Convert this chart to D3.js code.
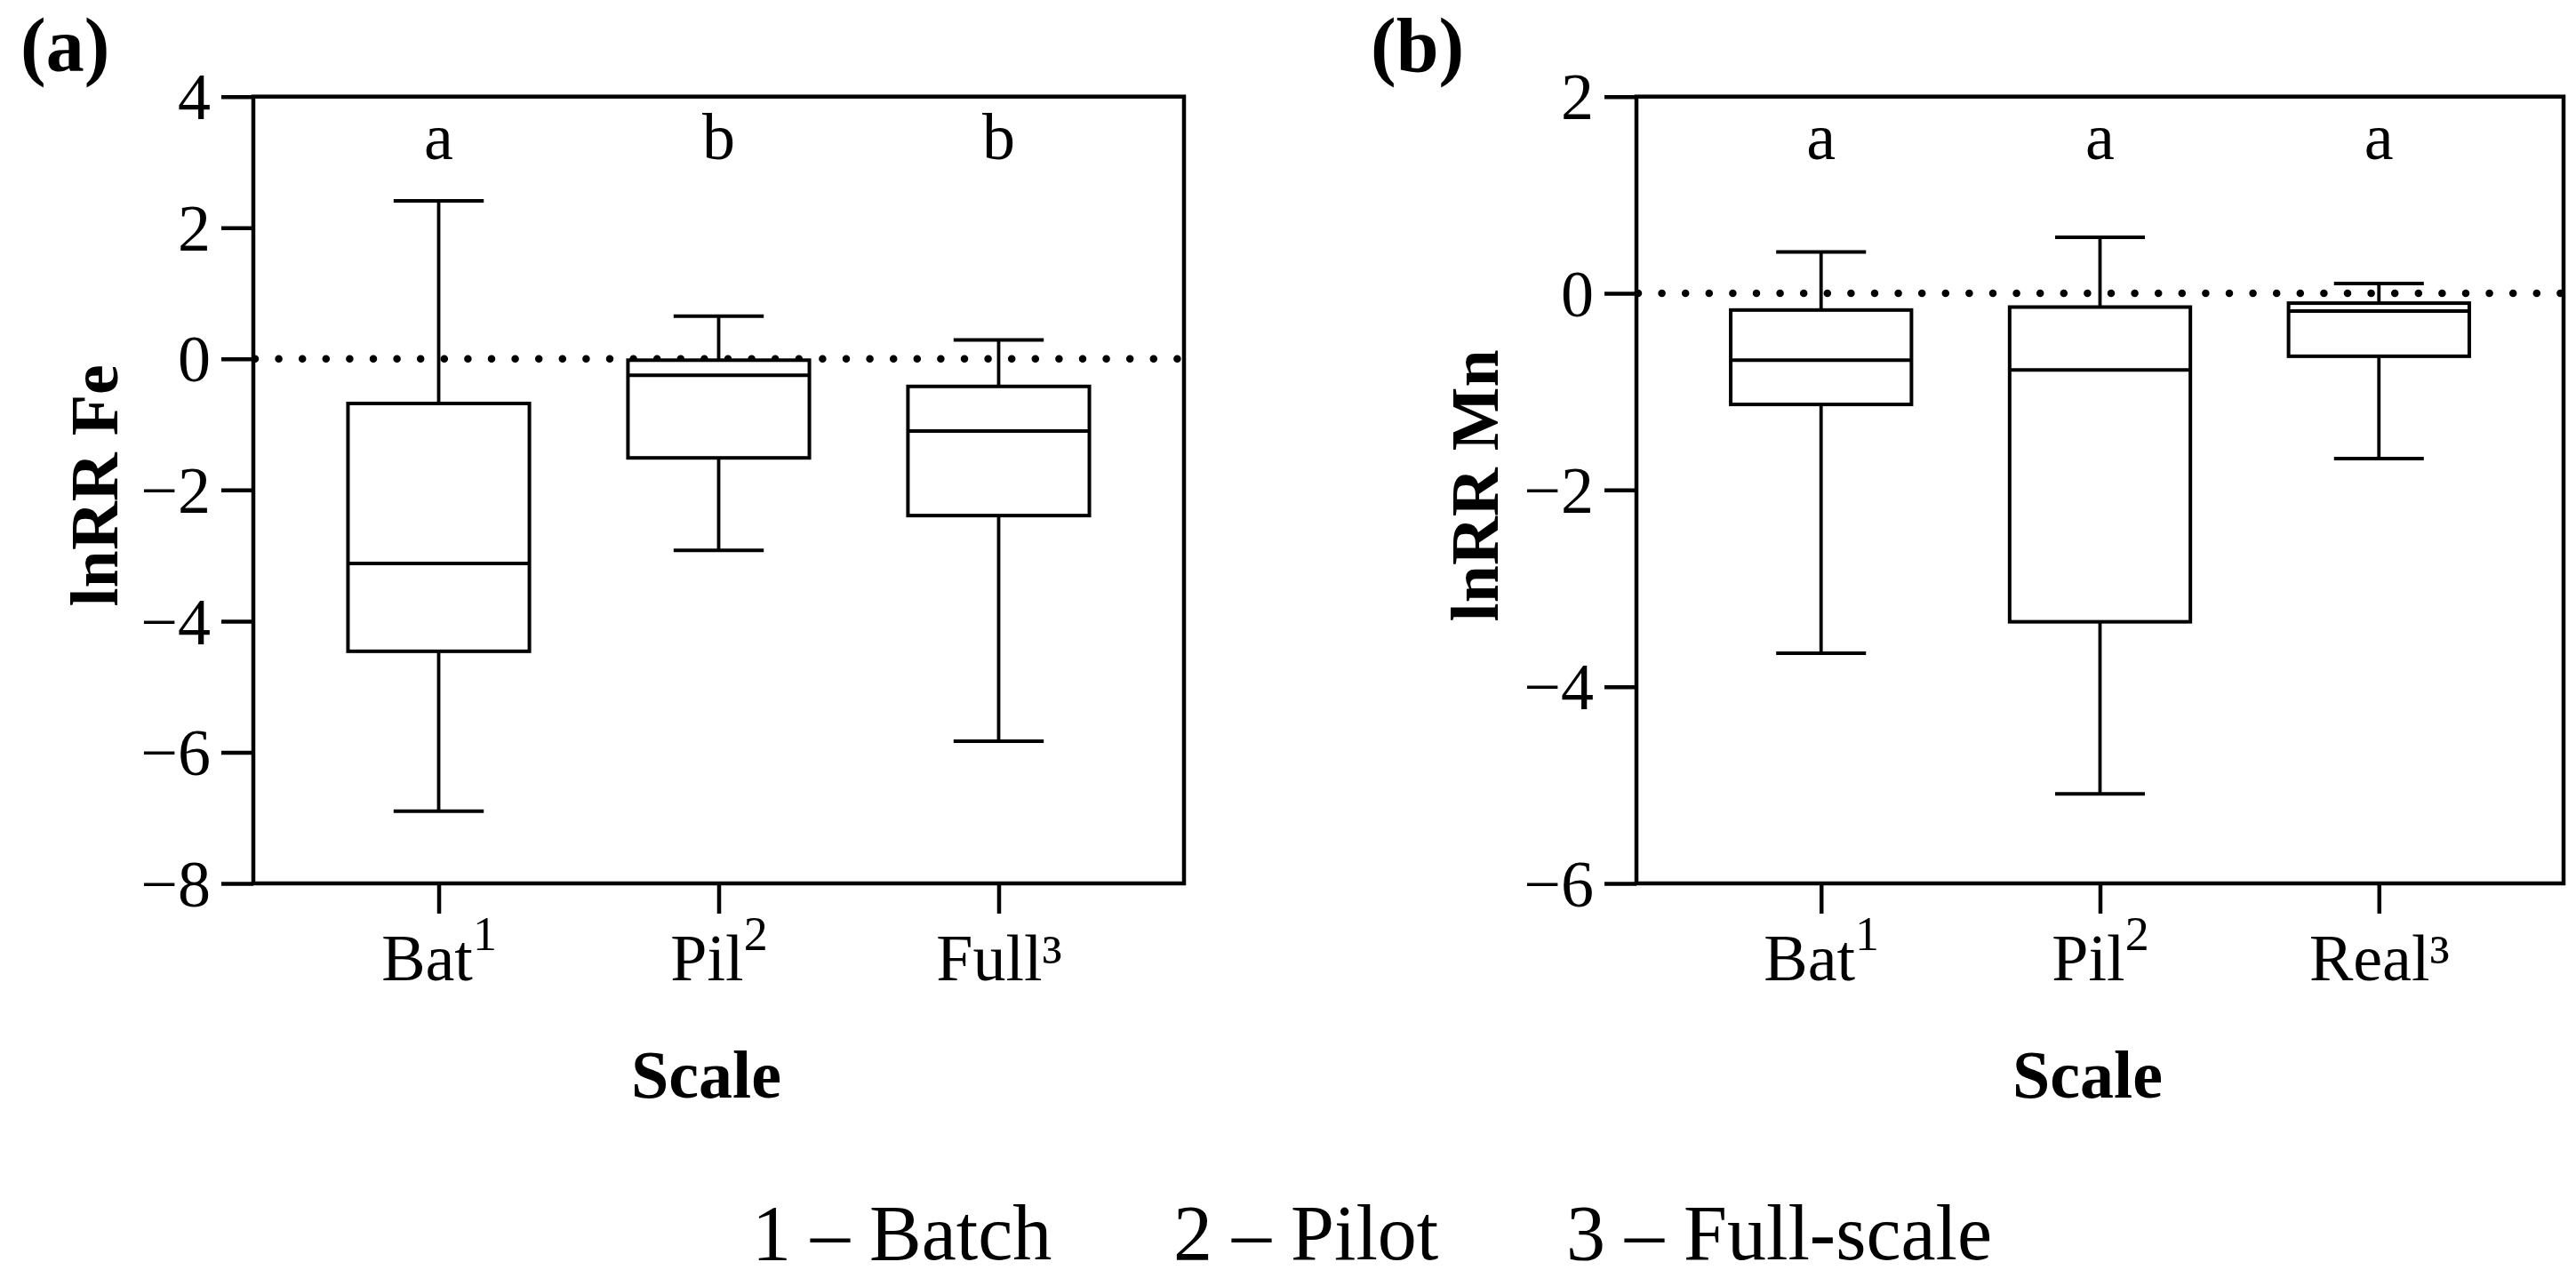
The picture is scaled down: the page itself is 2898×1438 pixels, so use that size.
<!DOCTYPE html>
<html>
<head>
<meta charset="utf-8">
<script src="https://cdn.jsdelivr.net/npm/d3@7"></script>
<style>
  html, body { margin: 0; padding: 0; background: #fff; }
  svg { display: block; }
  text { font-family: "Liberation Serif", "Times New Roman", serif; fill: #000; }
</style>
</head>
<body>
<svg id="chart" width="2898" height="1438"></svg>
<script>
// ---------- data ----------
const catsA = ["Bat", "Pil", "Full³"];
const supsA = ["1", "2", ""];
const lettersA = ["a", "b", "b"];
const feWhiskerMin = [-6.90, -2.92, -5.83];
const feQ1 = [-4.46, -1.51, -2.39];
const feMedian = [-3.12, -0.25, -1.10];
const feQ3 = [-0.68, -0.02, -0.42];
const feWhiskerMax = [2.41, 0.65, 0.29];
const yTicksA = [4, 2, 0, -2, -4, -6, -8];

const catsB = ["Bat", "Pil", "Real³"];
const supsB = ["1", "2", ""];
const lettersB = ["a", "a", "a"];
const mnWhiskerMin = [-3.66, -5.09, -1.68];
const mnQ1 = [-1.13, -3.34, -0.64];
const mnMedian = [-0.68, -0.78, -0.18];
const mnQ3 = [-0.17, -0.14, -0.10];
const mnWhiskerMax = [0.42, 0.57, 0.10];
const yTicksB = [2, 0, -2, -4, -6];

const legendItems = ["1 – Batch", "2 – Pilot", "3 – Full-scale"];

// ---------- drawing ----------
const svg = d3.select("#chart");
svg.append("rect").attr("width", 2898).attr("height", 1438).attr("fill", "#fff");

function minusFmt(v) { return v < 0 ? "\u2212" + Math.abs(v) : String(v); }

function drawPanel(cfg) {
  const g = svg.append("g");
  const y = d3.scaleLinear().domain(cfg.domain).range([cfg.bottom, cfg.top]);
  const x = d3.scalePoint().domain(cfg.cats).range([cfg.left, cfg.right]).padding(0.662);
  const step = x.step();
  const boxW = step * 0.648;
  const capW = step * 0.322;

  // y axis
  const yAxis = d3.axisLeft(y).tickValues(cfg.yTicks).tickSize(36).tickSizeOuter(0)
    .tickPadding(12).tickFormat(minusFmt);
  const ya = g.append("g").attr("transform", `translate(${cfg.left},0)`).call(yAxis);
  ya.select(".domain").remove();
  ya.selectAll(".tick line").attr("stroke", "#000").attr("stroke-width", 4.5);
  ya.selectAll(".tick text").attr("font-size", 74).attr("font-family", "Liberation Serif")
    .attr("dy", "0.34em").attr("fill", "#000");

  // x axis
  const xAxis = d3.axisBottom(x).tickSize(34).tickSizeOuter(0).tickPadding(22);
  const xa = g.append("g").attr("transform", `translate(0,${cfg.bottom})`).call(xAxis);
  xa.select(".domain").remove();
  xa.selectAll(".tick line").attr("stroke", "#000").attr("stroke-width", 4.5);
  xa.selectAll(".tick text").each(function(d, i) {
    const t = d3.select(this);
    t.text(null).attr("font-size", 74).attr("font-family", "Liberation Serif").attr("fill", "#000")
      .attr("dy", "0.71em");
    t.append("tspan").text(d);
    if (cfg.sups[i]) {
      t.append("tspan").attr("font-size", 54).attr("dy", "-0.62em").text(cfg.sups[i]);
    }
  });

  // dotted zero line
  g.append("line")
    .attr("x1", cfg.left + 2).attr("x2", cfg.right)
    .attr("y1", y(0)).attr("y2", y(0))
    .attr("stroke", "#000").attr("stroke-width", 8.5)
    .attr("stroke-linecap", "round").attr("stroke-dasharray", "0 26.6");

  // boxes
  const data = cfg.cats.map((c, i) => ({
    c, lo: cfg.wmin[i], q1: cfg.q1[i], med: cfg.med[i], q3: cfg.q3[i], hi: cfg.wmax[i]
  }));
  const bx = g.selectAll(".box").data(data).enter().append("g").attr("class", "box");
  bx.append("line").attr("x1", d => x(d.c)).attr("x2", d => x(d.c))
    .attr("y1", d => y(d.hi)).attr("y2", d => y(d.q3))
    .attr("stroke", "#000").attr("stroke-width", 3.8);
  bx.append("line").attr("x1", d => x(d.c)).attr("x2", d => x(d.c))
    .attr("y1", d => y(d.q1)).attr("y2", d => y(d.lo))
    .attr("stroke", "#000").attr("stroke-width", 3.8);
  bx.append("line").attr("x1", d => x(d.c) - capW / 2).attr("x2", d => x(d.c) + capW / 2)
    .attr("y1", d => y(d.hi)).attr("y2", d => y(d.hi))
    .attr("stroke", "#000").attr("stroke-width", 4);
  bx.append("line").attr("x1", d => x(d.c) - capW / 2).attr("x2", d => x(d.c) + capW / 2)
    .attr("y1", d => y(d.lo)).attr("y2", d => y(d.lo))
    .attr("stroke", "#000").attr("stroke-width", 4);
  bx.append("rect").attr("x", d => x(d.c) - boxW / 2).attr("width", boxW)
    .attr("y", d => y(d.q3)).attr("height", d => y(d.q1) - y(d.q3))
    .attr("fill", "#fff").attr("stroke", "#000").attr("stroke-width", 4);
  bx.append("line").attr("x1", d => x(d.c) - boxW / 2).attr("x2", d => x(d.c) + boxW / 2)
    .attr("y1", d => y(d.med)).attr("y2", d => y(d.med))
    .attr("stroke", "#000").attr("stroke-width", 4);

  // group letters
  g.selectAll(".letter").data(cfg.letters).enter().append("text")
    .attr("x", (d, i) => x(cfg.cats[i])).attr("y", cfg.top + 70)
    .attr("text-anchor", "middle").attr("font-size", 74).text(d => d);

  // frame
  g.append("rect").attr("x", cfg.left).attr("y", cfg.top)
    .attr("width", cfg.right - cfg.left).attr("height", cfg.bottom - cfg.top)
    .attr("fill", "none").attr("stroke", "#000").attr("stroke-width", 4.5);

  // axis titles
  g.append("text").attr("transform", `translate(${cfg.ylabelX},${(cfg.top + cfg.bottom) / 2 - 5}) rotate(-90)`)
    .attr("text-anchor", "middle").attr("font-weight", "bold").attr("font-size", 76).text(cfg.ylabel);
  g.append("text").attr("x", (cfg.left + cfg.right) / 2 - 14).attr("y", 1235)
    .attr("text-anchor", "middle").attr("font-weight", "bold").attr("font-size", 76).text("Scale");

  // panel label
  g.append("text").attr("x", cfg.panelX).attr("y", 80)
    .attr("font-weight", "bold").attr("font-size", 86).text(cfg.panel);
}

drawPanel({
  left: 285, right: 1332, top: 108.7, bottom: 994,
  domain: [-8, 4], yTicks: yTicksA, cats: catsA, sups: supsA, letters: lettersA,
  wmin: feWhiskerMin, q1: feQ1, med: feMedian, q3: feQ3, wmax: feWhiskerMax,
  ylabel: "lnRR Fe", ylabelX: 132, panel: "(a)", panelX: 23
});
drawPanel({
  left: 1841, right: 2884, top: 108.7, bottom: 994,
  domain: [-6, 2], yTicks: yTicksB, cats: catsB, sups: supsB, letters: lettersB,
  wmin: mnWhiskerMin, q1: mnQ1, med: mnMedian, q3: mnQ3, wmax: mnWhiskerMax,
  ylabel: "lnRR Mn", ylabelX: 1685, panel: "(b)", panelX: 1542
});

// legend
const legendX = [846, 1320, 1762];
svg.selectAll(".legend").data(legendItems).enter().append("text")
  .attr("x", (d, i) => legendX[i]).attr("y", 1417)
  .attr("font-size", 88).text(d => d);
</script>
</body>
</html>
